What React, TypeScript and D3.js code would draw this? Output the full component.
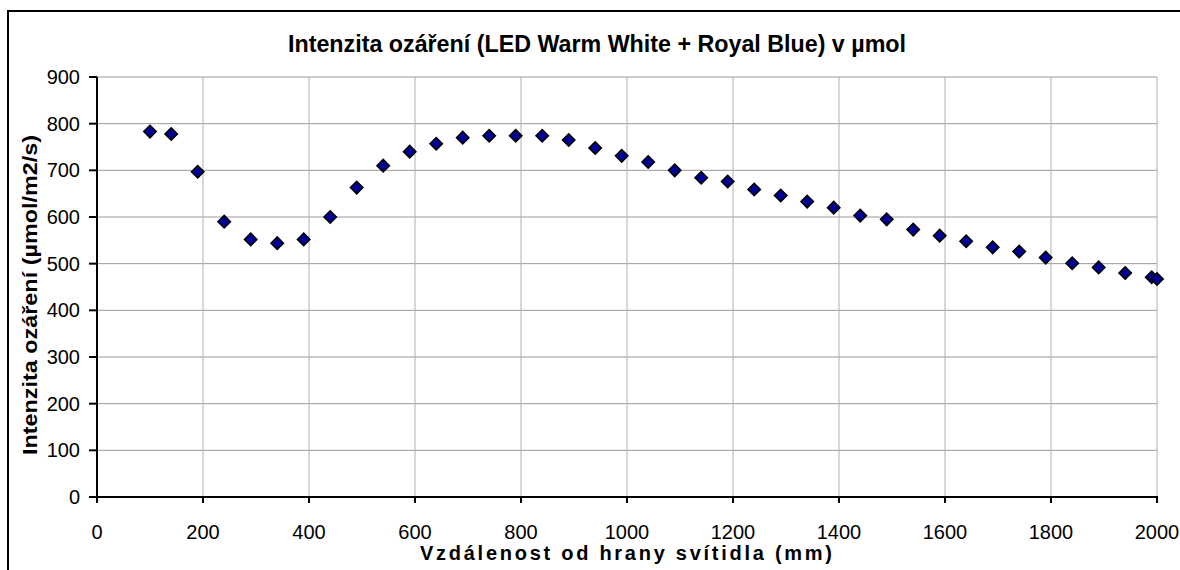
import * as d3 from "d3";

const distances = [
  100, 140, 190, 240, 290, 340, 390, 440, 490, 540, 590, 640, 690, 740, 790,
  840, 890, 940, 990, 1040, 1090, 1140, 1190, 1240, 1290, 1340, 1390, 1440,
  1490, 1540, 1590, 1640, 1690, 1740, 1790, 1840, 1890, 1940, 1990, 2000,
];
const intensity = [
  783, 778, 697, 590, 552, 544, 552, 600, 663, 710, 740, 757, 770, 774, 774,
  774, 765, 748, 731, 718, 700, 684, 676, 659, 646, 633, 620, 603, 595, 573,
  560, 548, 535, 526, 513, 501, 492, 480, 471, 467,
];
const xTicks = [0, 200, 400, 600, 800, 1000, 1200, 1400, 1600, 1800, 2000];
const yTicks = [0, 100, 200, 300, 400, 500, 600, 700, 800, 900];

const title = "Intenzita ozáření (LED Warm White + Royal Blue) v µmol";
const xTitle = "Vzdálenost od hrany svítidla (mm)";
const yTitle = "Intenzita ozáření (µmol/m2/s)";

const W = 1180;
const H = 570;
const m = { left: 97, right: 23, top: 77, bottom: 73 };

export default function App() {
  const x = d3.scaleLinear().domain([0, 2000]).range([m.left, W - m.right]);
  const y = d3.scaleLinear().domain([0, 900]).range([H - m.bottom, m.top]);
  // square turned 45 degrees, like the Excel marker
  const diamond = d3.symbol(d3.symbolSquare, 76)();
  const font = "'Liberation Sans', Arial, sans-serif";

  return (
    <svg
      width={W}
      height={H}
      style={{ position: "absolute", left: 0, top: 0, background: "#fff" }}
      fontFamily={font}
    >
      <rect x={8} y={11} width={W + 10} height={H + 10} fill="#fff" stroke="#000" strokeWidth={2} />

      {/* grid */}
      {yTicks.map((t) => (
        <line key={"gy" + t} x1={x(0)} x2={x(2000)} y1={y(t)} y2={y(t)} stroke="#9a9a9a" strokeWidth={1} />
      ))}
      {xTicks.map((t) => (
        <line key={"gx" + t} x1={x(t)} x2={x(t)} y1={y(0)} y2={y(900)} stroke="#b0b0b0" strokeWidth={1} />
      ))}

      {/* axes */}
      <line x1={x(0)} x2={x(0)} y1={y(0) + 1} y2={y(900)} stroke="#000" strokeWidth={2} />
      <line x1={x(0) - 1} x2={x(2000) + 1} y1={y(0)} y2={y(0)} stroke="#000" strokeWidth={2} />
      {yTicks.map((t) => (
        <g key={"ty" + t}>
          <line x1={x(0) - 8} x2={x(0)} y1={y(t)} y2={y(t)} stroke="#000" strokeWidth={2} />
          <text x={x(0) - 17} y={y(t)} dy="0.35em" textAnchor="end" fontSize={20}>
            {t}
          </text>
        </g>
      ))}
      {xTicks.map((t) => (
        <g key={"tx" + t}>
          <line x1={x(t)} x2={x(t)} y1={y(0)} y2={y(0) + 6} stroke="#000" strokeWidth={2} />
          <text x={x(t)} y={y(0) + 42} textAnchor="middle" fontSize={20}>
            {t}
          </text>
        </g>
      ))}

      {/* points */}
      {distances.map((d, i) => (
        <path
          key={"p" + i}
          d={diamond}
          transform={`translate(${x(d)},${y(intensity[i])}) rotate(45)`}
          fill="#000099"
          stroke="#000"
          strokeWidth={1.6}
        />
      ))}

      {/* titles */}
      <text x={597} y={52} textAnchor="middle" fontSize={23} fontWeight="bold" textLength={618} lengthAdjust="spacingAndGlyphs">
        {title}
      </text>
      <text x={626} y={560} textAnchor="middle" fontSize={20} fontWeight="bold" textLength={412} lengthAdjust="spacing">
        {xTitle}
      </text>
      <text
        transform={`translate(37,${(y(0) + y(900)) / 2 + 8}) rotate(-90)`}
        textAnchor="middle"
        fontSize={20}
        fontWeight="bold"
        textLength={320}
        lengthAdjust="spacingAndGlyphs"
      >
        {yTitle}
      </text>
    </svg>
  );
}
